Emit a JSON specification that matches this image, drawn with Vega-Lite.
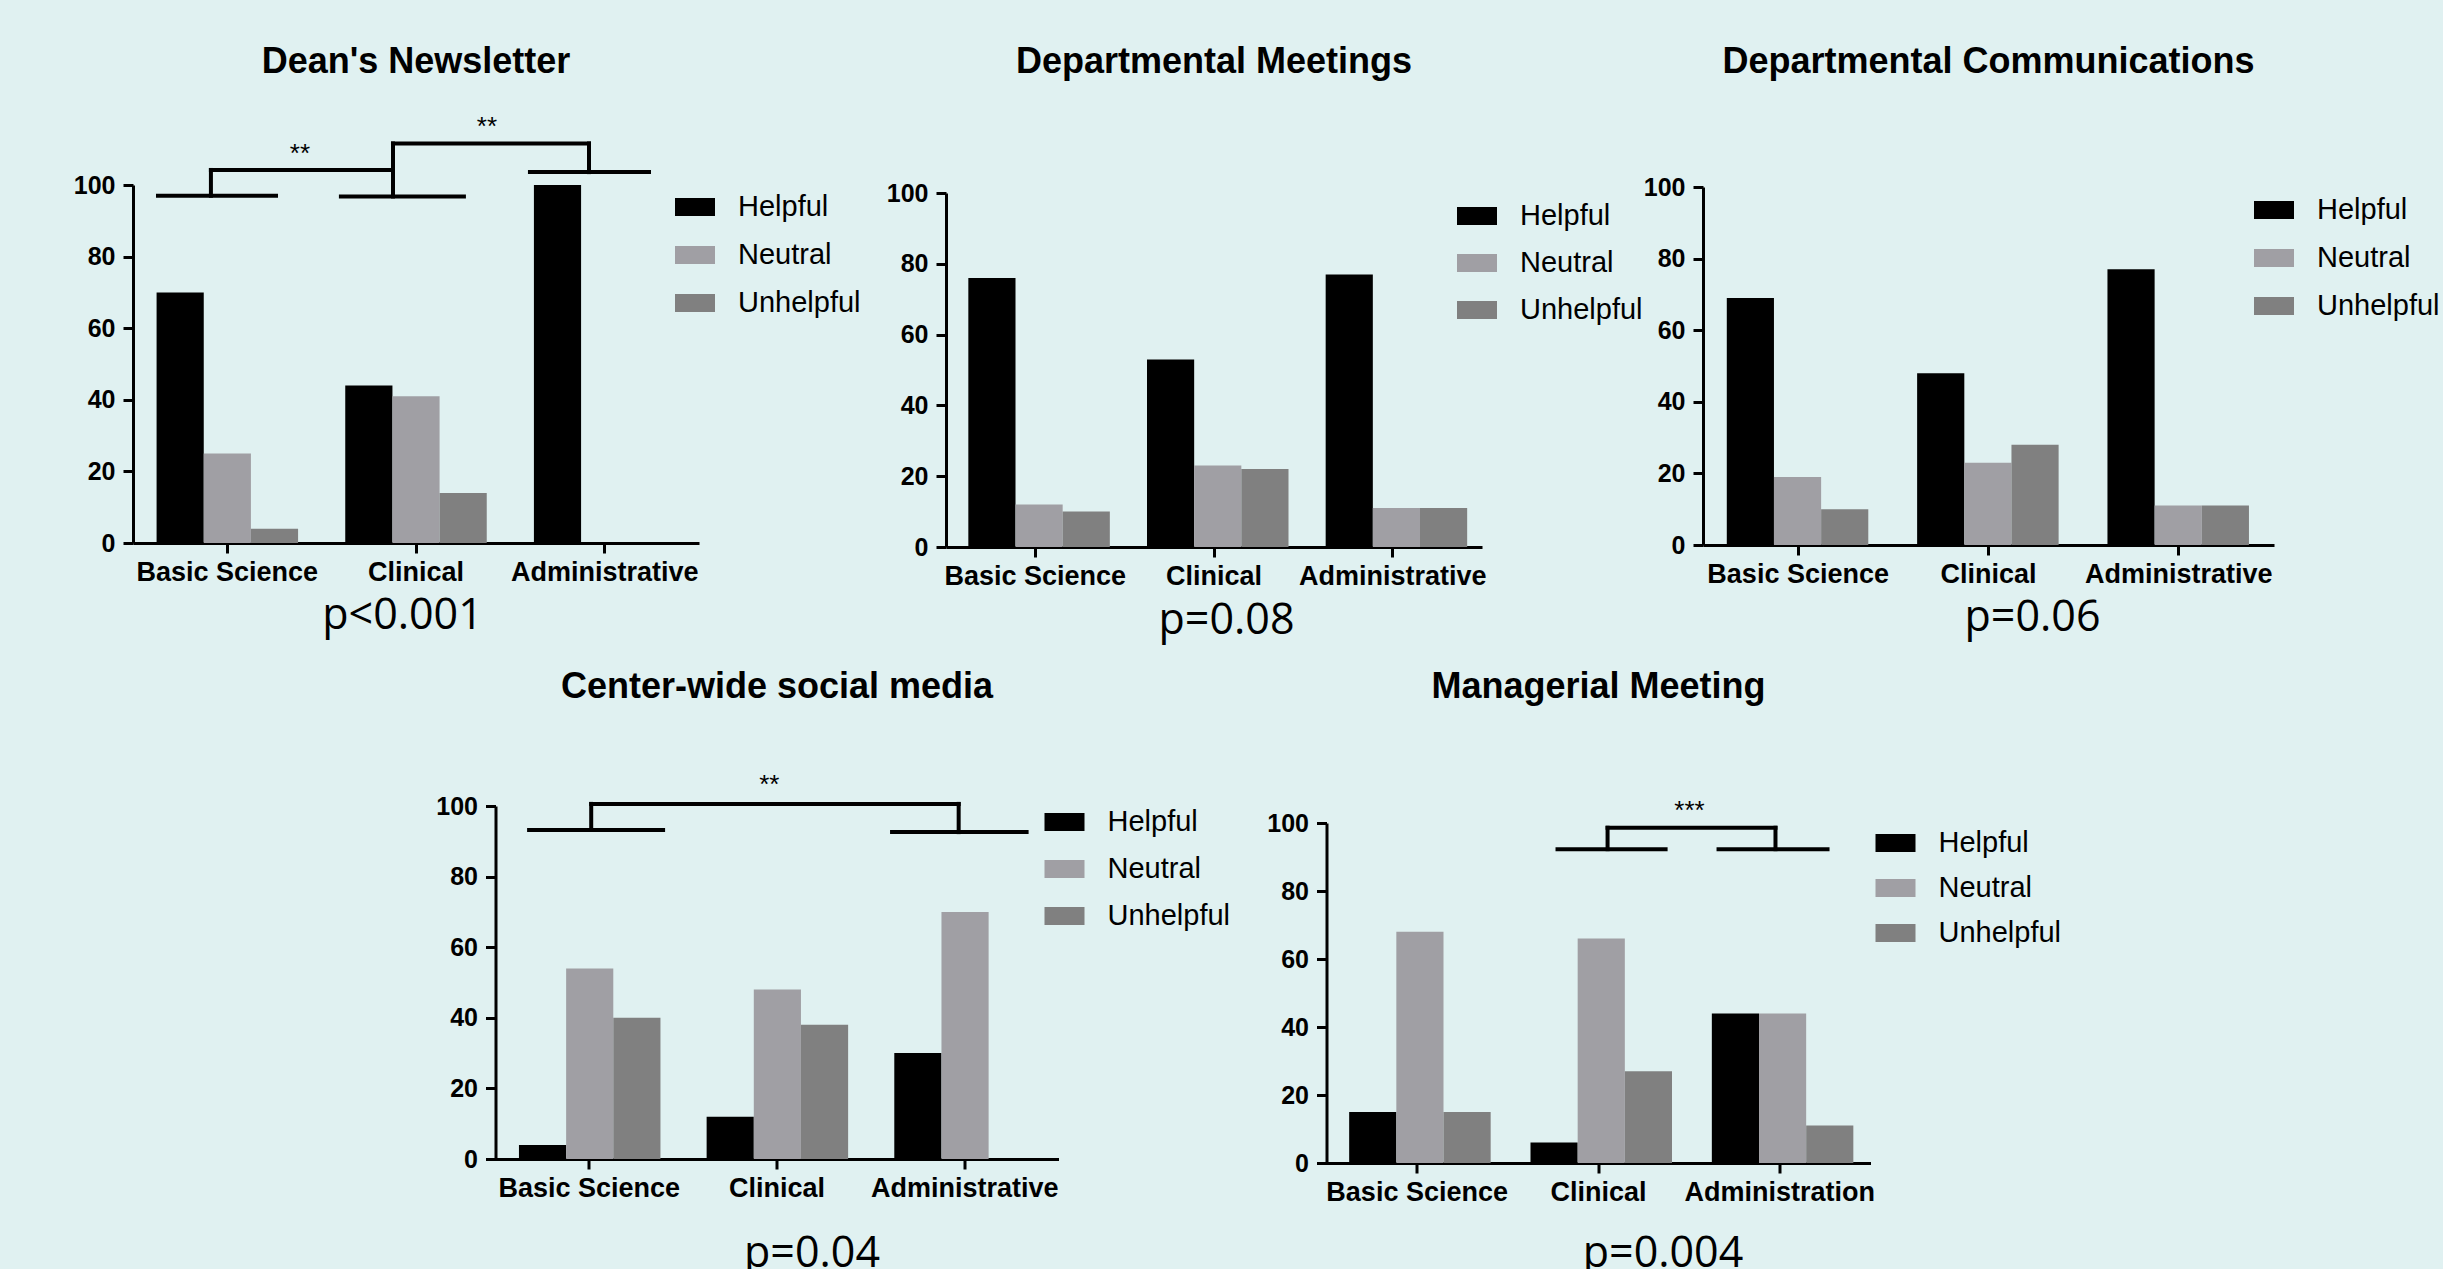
{
  "$schema": "https://vega.github.io/schema/vega-lite/v6.json",
  "background": "#e0f1f1",
  "padding": {"left": 73, "top": 43, "right": 4, "bottom": 0},
  "spacing": 26,
  "center": true,
  "resolve": {"scale": {"color": "independent"}, "legend": {"color": "independent"}},
  "vconcat": [
    {
      "spacing": 0,
      "resolve": {"scale": {"color": "independent"}, "legend": {"color": "independent"}},
      "hconcat": [
        {
          "spacing": 25,
          "resolve": {"scale": {"color": "independent"}, "legend": {"color": "independent"}},
          "hconcat": [
            {
              "width": 566, "height": 358,
              "title": {"text": "Dean's Newsletter", "offset": 33},
              "data": {"values": [
                {"group": "Basic Science", "response": "Helpful", "pct": 70},
                {"group": "Basic Science", "response": "Neutral", "pct": 25},
                {"group": "Basic Science", "response": "Unhelpful", "pct": 4},
                {"group": "Clinical", "response": "Helpful", "pct": 44},
                {"group": "Clinical", "response": "Neutral", "pct": 41},
                {"group": "Clinical", "response": "Unhelpful", "pct": 14},
                {"group": "Administrative", "response": "Helpful", "pct": 100},
                {"group": "Administrative", "response": "Neutral", "pct": 0},
                {"group": "Administrative", "response": "Unhelpful", "pct": 0}
              ]},
              "layer": [
                {
                  "mark": "bar",
                  "encoding": {
                    "x": {"field": "group", "type": "nominal", "sort": ["Basic Science", "Clinical", "Administrative"], "scale": {"paddingInner": 0.25, "paddingOuter": 0.125}, "axis": {"title": "p<0.001", "titleX": 269, "titleY": 72, "titleBaseline": "middle"}},
                    "xOffset": {"field": "response", "type": "nominal", "sort": ["Helpful", "Neutral", "Unhelpful"]},
                    "y": {"field": "pct", "type": "quantitative", "scale": {"domain": [0, 100], "nice": false}, "axis": {"title": null, "values": [0, 20, 40, 60, 80, 100]}},
                    "color": {"field": "response", "type": "nominal", "scale": {"domain": ["Helpful", "Neutral", "Unhelpful"], "range": ["#000000", "#a09fa4", "#808080"]}, "legend": {"title": null, "legendX": 542, "legendY": 2, "rowPadding": 13}}
                  }
                },
                {
                  "data": {"values": [
                    {"x": 0.1325, "x2": 0.758, "y": 97, "y2": 97},
                    {"x": 0.413, "x2": 0.413, "y": 97, "y2": 104.2},
                    {"x": 0.413, "x2": 1.378, "y": 104.2, "y2": 104.2},
                    {"x": 1.102, "x2": 1.754, "y": 96.8, "y2": 96.8},
                    {"x": 1.378, "x2": 1.378, "y": 96.8, "y2": 111.6},
                    {"x": 1.378, "x2": 2.417, "y": 111.6, "y2": 111.6},
                    {"x": 2.417, "x2": 2.417, "y": 111.6, "y2": 103.6},
                    {"x": 2.104, "x2": 2.735, "y": 103.6, "y2": 103.6}
                  ]},
                  "mark": {"type": "rule", "strokeWidth": 4, "color": "black", "strokeCap": "square"},
                  "encoding": {
                    "x": {"field": "x", "type": "quantitative", "scale": {"domain": [0, 3]}, "axis": null},
                    "x2": {"field": "x2"},
                    "y": {"field": "y", "type": "quantitative", "scale": {"domain": [0, 100], "nice": false}},
                    "y2": {"field": "y2"}
                  }
                },
                {
                  "data": {"values": [
                    {"x": 0.885, "y": 108.7, "label": "**"},
                    {"x": 1.876, "y": 116.3, "label": "**"}
                  ]},
                  "mark": {"type": "text", "fontSize": 26, "font": "Liberation Sans", "color": "black", "baseline": "middle"},
                  "encoding": {
                    "x": {"field": "x", "type": "quantitative", "scale": {"domain": [0, 3]}, "axis": null},
                    "y": {"field": "y", "type": "quantitative", "scale": {"domain": [0, 100], "nice": false}},
                    "text": {"field": "label"}
                  }
                }
              ],
              "resolve": {"scale": {"x": "independent"}}
            },
            {
              "width": 536, "height": 362,
              "title": {"text": "Departmental Meetings", "offset": 100},
              "data": {"values": [
                {"group": "Basic Science", "response": "Helpful", "pct": 76},
                {"group": "Basic Science", "response": "Neutral", "pct": 12},
                {"group": "Basic Science", "response": "Unhelpful", "pct": 10},
                {"group": "Clinical", "response": "Helpful", "pct": 53},
                {"group": "Clinical", "response": "Neutral", "pct": 23},
                {"group": "Clinical", "response": "Unhelpful", "pct": 22},
                {"group": "Administrative", "response": "Helpful", "pct": 77},
                {"group": "Administrative", "response": "Neutral", "pct": 11},
                {"group": "Administrative", "response": "Unhelpful", "pct": 11}
              ]},
              "mark": "bar",
              "encoding": {
                "x": {"field": "group", "type": "nominal", "sort": ["Basic Science", "Clinical", "Administrative"], "scale": {"paddingInner": 0.25, "paddingOuter": 0.125}, "axis": {"title": "p=0.08", "titleX": 280, "titleY": 73, "titleBaseline": "middle"}},
                "xOffset": {"field": "response", "type": "nominal", "sort": ["Helpful", "Neutral", "Unhelpful"]},
                "y": {"field": "pct", "type": "quantitative", "scale": {"domain": [0, 100], "nice": false, "range": [362, 8]}, "axis": {"title": null, "values": [0, 20, 40, 60, 80, 100]}},
                "color": {"field": "response", "type": "nominal", "scale": {"domain": ["Helpful", "Neutral", "Unhelpful"], "range": ["#000000", "#a09fa4", "#808080"]}, "legend": {"title": null, "legendX": 511, "legendY": 11, "rowPadding": 12}}
              }
            }
          ]
        },
        {
          "width": 571, "height": 360,
          "title": {"text": "Departmental Communications", "offset": 94},
          "data": {"values": [
            {"group": "Basic Science", "response": "Helpful", "pct": 69},
            {"group": "Basic Science", "response": "Neutral", "pct": 19},
            {"group": "Basic Science", "response": "Unhelpful", "pct": 10},
            {"group": "Clinical", "response": "Helpful", "pct": 48},
            {"group": "Clinical", "response": "Neutral", "pct": 23},
            {"group": "Clinical", "response": "Unhelpful", "pct": 28},
            {"group": "Administrative", "response": "Helpful", "pct": 77},
            {"group": "Administrative", "response": "Neutral", "pct": 11},
            {"group": "Administrative", "response": "Unhelpful", "pct": 11}
          ]},
          "mark": "bar",
          "encoding": {
            "x": {"field": "group", "type": "nominal", "sort": ["Basic Science", "Clinical", "Administrative"], "scale": {"paddingInner": 0.25, "paddingOuter": 0.125}, "axis": {"title": "p=0.06", "titleX": 329, "titleY": 72, "titleBaseline": "middle"}},
            "xOffset": {"field": "response", "type": "nominal", "sort": ["Helpful", "Neutral", "Unhelpful"]},
            "y": {"field": "pct", "type": "quantitative", "scale": {"domain": [0, 100], "nice": false, "range": [360, 2]}, "axis": {"title": null, "values": [0, 20, 40, 60, 80, 100]}},
            "color": {"field": "response", "type": "nominal", "scale": {"domain": ["Helpful", "Neutral", "Unhelpful"], "range": ["#000000", "#a09fa4", "#808080"]}, "legend": {"title": null, "legendX": 551, "legendY": 5, "rowPadding": 13}}
          }
        }
      ]
    },
    {
      "spacing": 36,
      "resolve": {"scale": {"color": "independent"}, "legend": {"color": "independent"}},
      "hconcat": [
        {
          "width": 563, "height": 353,
          "title": {"text": "Center-wide social media", "offset": 66},
          "data": {"values": [
            {"group": "Basic Science", "response": "Helpful", "pct": 4},
            {"group": "Basic Science", "response": "Neutral", "pct": 54},
            {"group": "Basic Science", "response": "Unhelpful", "pct": 40},
            {"group": "Clinical", "response": "Helpful", "pct": 12},
            {"group": "Clinical", "response": "Neutral", "pct": 48},
            {"group": "Clinical", "response": "Unhelpful", "pct": 38},
            {"group": "Administrative", "response": "Helpful", "pct": 30},
            {"group": "Administrative", "response": "Neutral", "pct": 70},
            {"group": "Administrative", "response": "Unhelpful", "pct": 0}
          ]},
          "layer": [
            {
              "mark": "bar",
              "encoding": {
                "x": {"field": "group", "type": "nominal", "sort": ["Basic Science", "Clinical", "Administrative"], "scale": {"paddingInner": 0.25, "paddingOuter": 0.125}, "axis": {"title": "p=0.04", "titleX": 316, "titleY": 94, "titleBaseline": "middle"}},
                "xOffset": {"field": "response", "type": "nominal", "sort": ["Helpful", "Neutral", "Unhelpful"]},
                "y": {"field": "pct", "type": "quantitative", "scale": {"domain": [0, 100], "nice": false}, "axis": {"title": null, "values": [0, 20, 40, 60, 80, 100]}},
                "color": {"field": "response", "type": "nominal", "scale": {"domain": ["Helpful", "Neutral", "Unhelpful"], "range": ["#000000", "#a09fa4", "#808080"]}, "legend": {"title": null, "legendX": 549, "legendY": -4, "rowPadding": 12}}
              }
            },
            {
              "data": {"values": [
                {"x": 0.179, "x2": 0.893, "y": 93.2, "y2": 93.2},
                {"x": 0.51, "x2": 0.51, "y": 93.2, "y2": 100.6},
                {"x": 0.51, "x2": 2.468, "y": 100.6, "y2": 100.6},
                {"x": 2.468, "x2": 2.468, "y": 100.6, "y2": 92.6},
                {"x": 2.113, "x2": 2.83, "y": 92.6, "y2": 92.6}
              ]},
              "mark": {"type": "rule", "strokeWidth": 4, "color": "black", "strokeCap": "square"},
              "encoding": {
                "x": {"field": "x", "type": "quantitative", "scale": {"domain": [0, 3]}, "axis": null},
                "x2": {"field": "x2"},
                "y": {"field": "y", "type": "quantitative", "scale": {"domain": [0, 100], "nice": false}},
                "y2": {"field": "y2"}
              }
            },
            {
              "data": {"values": [
                {"x": 1.459, "y": 105.9, "label": "**"}
              ]},
              "mark": {"type": "text", "fontSize": 26, "font": "Liberation Sans", "color": "black", "baseline": "middle"},
              "encoding": {
                "x": {"field": "x", "type": "quantitative", "scale": {"domain": [0, 3]}, "axis": null},
                "y": {"field": "y", "type": "quantitative", "scale": {"domain": [0, 100], "nice": false}},
                "text": {"field": "label"}
              }
            }
          ],
          "resolve": {"scale": {"x": "independent"}}
        },
        {
          "width": 544, "height": 357,
          "title": {"text": "Managerial Meeting", "offset": 92},
          "data": {"values": [
            {"group": "Basic Science", "response": "Helpful", "pct": 15},
            {"group": "Basic Science", "response": "Neutral", "pct": 68},
            {"group": "Basic Science", "response": "Unhelpful", "pct": 15},
            {"group": "Clinical", "response": "Helpful", "pct": 6},
            {"group": "Clinical", "response": "Neutral", "pct": 66},
            {"group": "Clinical", "response": "Unhelpful", "pct": 27},
            {"group": "Administration", "response": "Helpful", "pct": 44},
            {"group": "Administration", "response": "Neutral", "pct": 44},
            {"group": "Administration", "response": "Unhelpful", "pct": 11}
          ]},
          "layer": [
            {
              "mark": "bar",
              "encoding": {
                "x": {"field": "group", "type": "nominal", "sort": ["Basic Science", "Clinical", "Administration"], "scale": {"paddingInner": 0.25, "paddingOuter": 0.125}, "axis": {"title": "p=0.004", "titleX": 336, "titleY": 90, "titleBaseline": "middle"}},
                "xOffset": {"field": "response", "type": "nominal", "sort": ["Helpful", "Neutral", "Unhelpful"]},
                "y": {"field": "pct", "type": "quantitative", "scale": {"domain": [0, 100], "nice": false, "range": [357, 17]}, "axis": {"title": null, "values": [0, 20, 40, 60, 80, 100]}},
                "color": {"field": "response", "type": "nominal", "scale": {"domain": ["Helpful", "Neutral", "Unhelpful"], "range": ["#000000", "#a09fa4", "#808080"]}, "legend": {"title": null, "legendX": 533, "legendY": 1, "rowPadding": 10, "padding": 16}}
              }
            },
            {
              "data": {"values": [
                {"x": 1.274, "x2": 1.87, "y": 92.3, "y2": 92.3},
                {"x": 1.55, "x2": 1.55, "y": 92.3, "y2": 98.6},
                {"x": 1.55, "x2": 2.476, "y": 98.6, "y2": 98.6},
                {"x": 2.476, "x2": 2.476, "y": 98.6, "y2": 92.3},
                {"x": 2.162, "x2": 2.763, "y": 92.3, "y2": 92.3}
              ]},
              "mark": {"type": "rule", "strokeWidth": 4, "color": "black", "strokeCap": "square"},
              "encoding": {
                "x": {"field": "x", "type": "quantitative", "scale": {"domain": [0, 3]}, "axis": null},
                "x2": {"field": "x2"},
                "y": {"field": "y", "type": "quantitative", "scale": {"domain": [0, 100], "nice": false, "range": [357, 17]}},
                "y2": {"field": "y2"}
              }
            },
            {
              "data": {"values": [
                {"x": 2.002, "y": 103.6, "label": "***"}
              ]},
              "mark": {"type": "text", "fontSize": 26, "font": "Liberation Sans", "color": "black", "baseline": "middle"},
              "encoding": {
                "x": {"field": "x", "type": "quantitative", "scale": {"domain": [0, 3]}, "axis": null},
                "y": {"field": "y", "type": "quantitative", "scale": {"domain": [0, 100], "nice": false, "range": [357, 17]}},
                "text": {"field": "label"}
              }
            }
          ],
          "resolve": {"scale": {"x": "independent"}}
        }
      ]
    }
  ],
  "config": {
    "view": {"stroke": null},
    "font": "Liberation Sans",
    "title": {"font": "Liberation Sans", "fontSize": 36, "fontWeight": "bold", "color": "black", "anchor": "middle", "frame": "group"},
    "axis": {"domainColor": "black", "domainWidth": 3, "tickColor": "black", "tickWidth": 3, "tickSize": 10, "labelColor": "black", "labelFont": "Liberation Sans", "labelFontWeight": "bold", "grid": false, "labelLimit": 400, "titleFont": "Open Sans", "titleFontWeight": "normal", "titleFontSize": 43, "titleColor": "black"},
    "axisX": {"labelFontSize": 27, "labelAngle": 0, "labelPadding": 6},
    "axisY": {"labelFontSize": 25, "labelPadding": 8},
    "legend": {"orient": "none", "symbolType": "M-1,-0.45H1V0.45H-1Z", "symbolSize": 1600, "symbolStrokeWidth": 0, "symbolOpacity": 1, "labelFont": "Liberation Sans", "labelFontSize": 29, "labelColor": "black", "labelOffset": 23, "rowPadding": 13, "padding": 0, "labelLimit": 400}
  }
}
